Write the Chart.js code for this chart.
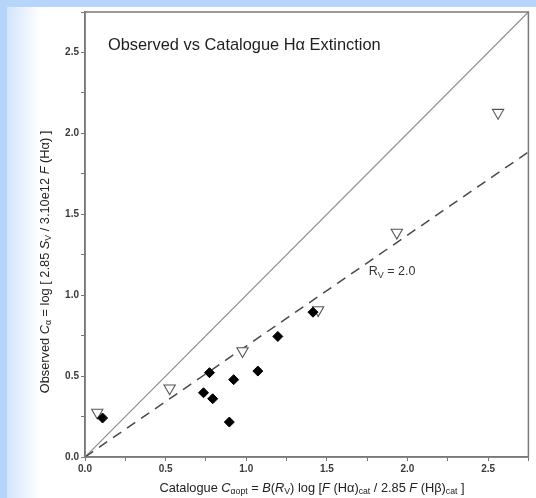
<!DOCTYPE html>
<html>
<head>
<meta charset="utf-8">
<script src="https://cdn.jsdelivr.net/npm/chart.js@4"></script>
<style>
  html, body { margin: 0; padding: 0; }
  body { width: 536px; height: 498px; background: #b6d5fb; position: relative; overflow: hidden; }
  #panel { position: absolute; left: 7px; top: 7px; width: 529px; height: 491px;
    background: linear-gradient(to right, #d3e5fc 0px, #ffffff 34px); }
  #cv { position: absolute; left: 0; top: 0; }
</style>
</head>
<body>
<div id="panel"></div>
<canvas id="cv" width="536" height="498"></canvas>
<script>
// open triangles (upper limits)
const triX = [0.076, 0.525, 0.977, 1.446, 1.934, 2.562];
const triY = [0.275, 0.425, 0.655, 0.908, 1.387, 2.128];
// filled diamonds
const diaX = [0.109, 0.735, 0.772, 0.792, 0.895, 0.922, 1.072, 1.196, 1.414];
const diaY = [0.241, 0.397, 0.521, 0.360, 0.216, 0.478, 0.531, 0.745, 0.895];
// reference lines
const lineX = [0, 2.75];
const oneToOneY = [0, 2.75];
const rv2Y = [0, 1.885];

const FONT = '"Liberation Sans", Arial, Helvetica, sans-serif';

function pts(xs, ys) {
    return xs.map(function (x, i) { return { x: x, y: ys[i] }; });
}

// draw a line of text with italic / subscript pieces
function richWidth(ctx, segs, size) {
    let w = 0;
    segs.forEach(function (s) {
        ctx.font = (s.i ? 'italic ' : '') + (s.s ? size * 0.68 : size) + 'px ' + FONT;
        w += ctx.measureText(s.t).width;
    });
    return w;
}
function drawRich(ctx, segs, size, cx, cy) {
    const w = richWidth(ctx, segs, size);
    let x = cx - w / 2;
    ctx.textBaseline = 'middle';
    ctx.textAlign = 'left';
    segs.forEach(function (s) {
        ctx.font = (s.i ? 'italic ' : '') + (s.s ? size * 0.68 : size) + 'px ' + FONT;
        ctx.fillText(s.t, x, cy + (s.s ? size * 0.32 : 0));
        x += ctx.measureText(s.t).width;
    });
}

const xLabel = [
    { t: 'Catalogue ' }, { t: 'C', i: true }, { t: 'αopt', s: true }, { t: ' = ' },
    { t: 'B', i: true }, { t: '(' }, { t: 'R', i: true }, { t: 'V', s: true },
    { t: ') log [' }, { t: 'F', i: true }, { t: ' (Hα)' }, { t: 'cat', s: true },
    { t: ' / 2.85 ' }, { t: 'F', i: true }, { t: ' (Hβ)' }, { t: 'cat', s: true }, { t: ' ]' }
];
const yLabel = [
    { t: 'Observed ' }, { t: 'C', i: true }, { t: 'α', s: true }, { t: ' = log [ 2.85 ' },
    { t: 'S', i: true }, { t: 'V', s: true }, { t: ' / 3.10e12 ' }, { t: 'F', i: true },
    { t: ' (Hα) ]' }
];

const decorPlugin = {
    id: 'decor',
    beforeDraw: function (chart) {
        const a = chart.chartArea, ctx = chart.ctx;
        ctx.save();
        ctx.fillStyle = '#ffffff';
        ctx.fillRect(a.left, a.top, a.right - a.left, a.bottom - a.top);
        ctx.restore();
    },
    afterDraw: function (chart) {
        const a = chart.chartArea, ctx = chart.ctx;
        const xs = chart.scales.x, ys = chart.scales.y;
        ctx.save();
        // frame
        ctx.strokeStyle = '#7a7a7a';
        ctx.lineWidth = 1.5;
        ctx.strokeRect(a.left, a.top, a.right - a.left, a.bottom - a.top);
        // title
        ctx.fillStyle = '#1e1e1e';
        ctx.font = '16.4px ' + FONT;
        ctx.textAlign = 'left';
        ctx.textBaseline = 'middle';
        ctx.fillText('Observed vs Catalogue Hα Extinction', xs.getPixelForValue(0.142), ys.getPixelForValue(2.54));
        // R_V label
        const rx = xs.getPixelForValue(1.76), ry = ys.getPixelForValue(1.146);
        ctx.fillStyle = '#333';
        ctx.font = '12.5px ' + FONT;
        ctx.fillText('R', rx, ry);
        let w = ctx.measureText('R').width;
        ctx.font = '9px ' + FONT;
        ctx.fillText('V', rx + w, ry + 4);
        w += ctx.measureText('V').width;
        ctx.font = '12.5px ' + FONT;
        ctx.fillText(' = 2.0', rx + w, ry);
        // axis titles
        ctx.fillStyle = '#222';
        drawRich(ctx, xLabel, 12.8, 312, 488);
        ctx.translate(45, 262);
        ctx.rotate(-Math.PI / 2);
        drawRich(ctx, yLabel, 12.8, 0, 0);
        ctx.restore();
    }
};

function axis(fit) {
    return {
        type: 'linear', min: 0, max: 2.75,
        ticks: {
            stepSize: 0.25, autoSkip: false, maxRotation: 0, padding: 2,
            color: '#3a3a3a', font: { family: FONT, size: 10, weight: 'bold' },
            callback: function (v) {
                return Math.abs(v * 2 - Math.round(v * 2)) < 1e-6 ? v.toFixed(1) : '';
            }
        },
        grid: { drawOnChartArea: false, tickLength: 4, color: '#777' },
        border: { color: '#777', width: 1.5 },
        afterFit: fit
    };
}

new Chart(document.getElementById('cv'), {
    type: 'scatter',
    data: {
        datasets: [
            { data: pts(lineX, oneToOneY), showLine: true, pointRadius: 0,
              borderColor: '#8e8e8e', borderWidth: 1.2, order: 4 },
            { data: pts(lineX, rv2Y), showLine: true, pointRadius: 0,
              borderColor: '#4a4a4a', borderWidth: 1.5, borderDash: [10, 7], order: 3 },
            { data: pts(triX, triY), pointStyle: 'triangle', rotation: 180, pointRadius: 6.5,
              backgroundColor: '#ffffff', borderColor: '#555', borderWidth: 1.1, order: 2 },
            { data: pts(diaX, diaY), pointStyle: 'rectRot', pointRadius: 5,
              backgroundColor: '#000', borderColor: '#000', borderWidth: 1, order: 1 }
        ]
    },
    options: {
        responsive: false,
        animation: false,
        layout: { padding: { top: 12, right: 6, left: 0, bottom: 0 } },
        plugins: { legend: { display: false }, tooltip: { enabled: false } },
        scales: {
            x: axis(function (s) { s.height = 41; }),
            y: axis(function (s) { s.width = 85; })
        }
    },
    plugins: [decorPlugin]
});
</script>
</body>
</html>
